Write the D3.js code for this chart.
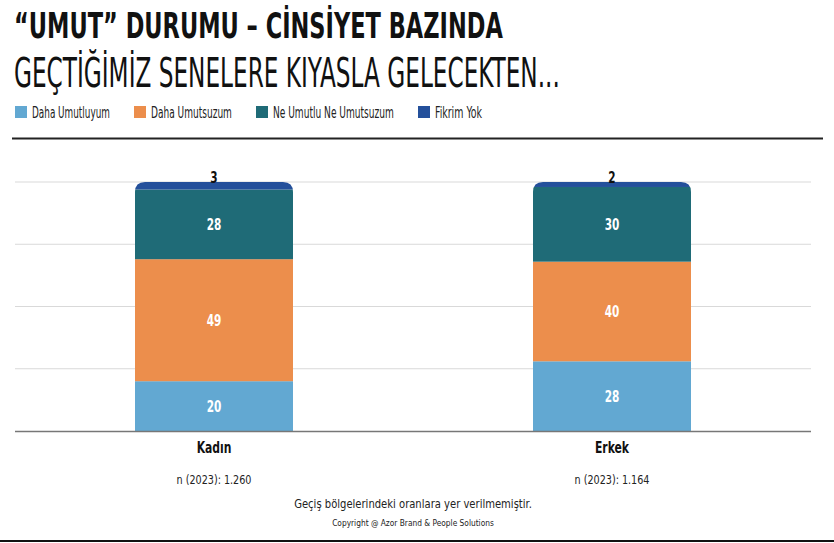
<!DOCTYPE html>
<html><head><meta charset="utf-8">
<script src="https://cdn.jsdelivr.net/npm/d3@7"></script>
<style>
html,body{margin:0;padding:0;background:#fff;}
svg{display:block;}
text{font-family:"DejaVu Sans Condensed","Liberation Sans Narrow","Roboto",sans-serif;}
</style></head>
<body>
<svg id="c" width="834" height="543"></svg>
<script>
const categories = ["Kadın", "Erkek"];
const sampleLabels = ["n (2023): 1.260", "n (2023): 1.164"];
const seriesNames = ["Daha Umutluyum", "Daha Umutsuzum", "Ne Umutlu Ne Umutsuzum", "Fikrim Yok"];
const seriesColors = ["#62a8d2", "#ec8e4c", "#1f6b77", "#24509b"];
const daha_umutluyum = [20, 28];
const daha_umutsuzum = [49, 40];
const ne_umutlu = [28, 30];
const fikrim_yok = [3, 2];
const yTicks = [0, 25, 50, 75, 100];
const titleText = "“UMUT” DURUMU – CİNSİYET BAZINDA";
const subtitleText = "GEÇTİĞİMİZ SENELERE KIYASLA GELECEKTEN...";
const footnote = "Geçiş bölgelerindeki oranlara yer verilmemiştir.";
const copyright = "Copyright @ Azor Brand & People Solutions";

const svg = d3.select("#c");
const seriesVals = [daha_umutluyum, daha_umutsuzum, ne_umutlu, fikrim_yok];
const rows = categories.map((c, i) => {
  const r = {cat: c};
  seriesNames.forEach((s, j) => r[s] = seriesVals[j][i]);
  return r;
});
const stack = d3.stack().keys(seriesNames)(rows);

// helper: condensed text via horizontal scaling
function addText(x, y, str, o) {
  const g = svg.append("g");
  const t = g.append("text").attr("x", 0).attr("y", 0)
    .attr("font-size", o.size).attr("font-weight", o.weight || "normal")
    .attr("fill", o.fill || "#111").attr("text-anchor", o.anchor || "start").text(str);
  let f = o.factor || 0.8;
  if (o.width) f = o.width / t.node().getComputedTextLength();
  g.attr("transform", `translate(${x},${y}) scale(${f},1)`);
  return g;
}

const plotL = 15, plotR = 811, plotT = 182, plotB = 431;
const x = d3.scaleBand().domain(categories).range([plotL, plotR]).paddingInner(0.603).paddingOuter(0.3015);
const y = d3.scaleLinear().domain([0, 100]).range([plotB, plotT]);
const color = d3.scaleOrdinal().domain(seriesNames).range(seriesColors);

// title
addText(14, 38, titleText, {size: 36, weight: "bold", width: 489});
addText(14, 87, subtitleText, {size: 41, width: 546});

// legend
const legX = [15, 134, 256, 418];
const legW = [78, 81, 121, 47];
seriesNames.forEach((s, i) => {
  svg.append("rect").attr("x", legX[i]).attr("y", 106).attr("width", 12).attr("height", 12).attr("fill", seriesColors[i]);
  addText(legX[i] + 17, 117.5, s, {size: 16.5, fill: "#222", width: legW[i]});
});

// separator
svg.append("line").attr("x1", 12).attr("x2", 823).attr("y1", 138.5).attr("y2", 138.5).attr("stroke", "#222").attr("stroke-width", 2);

// gridlines
svg.append("g").selectAll("line").data(yTicks.filter(t => t > 0)).join("line")
  .attr("x1", plotL).attr("x2", plotR).attr("y1", d => y(d)).attr("y2", d => y(d))
  .attr("stroke", "#d9d9d9").attr("stroke-width", 1.2);

// clip paths for rounded top
const defs = svg.append("defs");
const rad = 10;
categories.forEach((c, i) => {
  const x0 = x(c), w = x.bandwidth(), yt = y(d3.sum(seriesVals, v => v[i])), yb = y(0);
  defs.append("clipPath").attr("id", "clip" + i).append("path")
    .attr("d", `M${x0},${yb}V${yt + rad}Q${x0},${yt} ${x0 + rad},${yt}H${x0 + w - rad}Q${x0 + w},${yt} ${x0 + w},${yt + rad}V${yb}Z`);
});

// bars
categories.forEach((c, i) => {
  const g = svg.append("g").attr("clip-path", `url(#clip${i})`);
  stack.forEach(layer => {
    const d = layer[i];
    g.append("rect").attr("x", x(c)).attr("width", x.bandwidth())
      .attr("y", y(d[1])).attr("height", y(d[0]) - y(d[1]))
      .attr("fill", color(layer.key));
  });
});

// baseline
svg.append("line").attr("x1", plotL).attr("x2", plotR).attr("y1", plotB + 0.5).attr("y2", plotB + 0.5)
  .attr("stroke", "#777").attr("stroke-width", 1.5);

// value labels
stack.forEach((layer, li) => {
  layer.forEach((d, i) => {
    const cx = x(categories[i]) + x.bandwidth() / 2;
    const v = d[1] - d[0];
    if (li === stack.length - 1) {
      addText(cx, y(d[1]) + 1, String(v), {size: 15, weight: "bold", anchor: "middle", factor: 0.78});
    } else {
      addText(cx, (y(d[0]) + y(d[1])) / 2 + 5.5, String(v), {size: 15, weight: "bold", anchor: "middle", fill: "#fff", factor: 0.78});
    }
  });
});

// category labels
categories.forEach((c, i) => {
  const cx = x(c) + x.bandwidth() / 2;
  addText(cx, 453, c, {size: 16, weight: "bold", anchor: "middle", factor: 0.75});
  addText(cx, 484, sampleLabels[i], {size: 12.5, anchor: "middle", fill: "#222", width: 75});
});

addText(413, 508, footnote, {size: 12, anchor: "middle", fill: "#222", width: 238});
addText(413, 526, copyright, {size: 9, anchor: "middle", fill: "#222", width: 162});

svg.append("line").attr("x1", 0).attr("x2", 834).attr("y1", 541).attr("y2", 541).attr("stroke", "#111").attr("stroke-width", 2);
</script>
</body></html>
